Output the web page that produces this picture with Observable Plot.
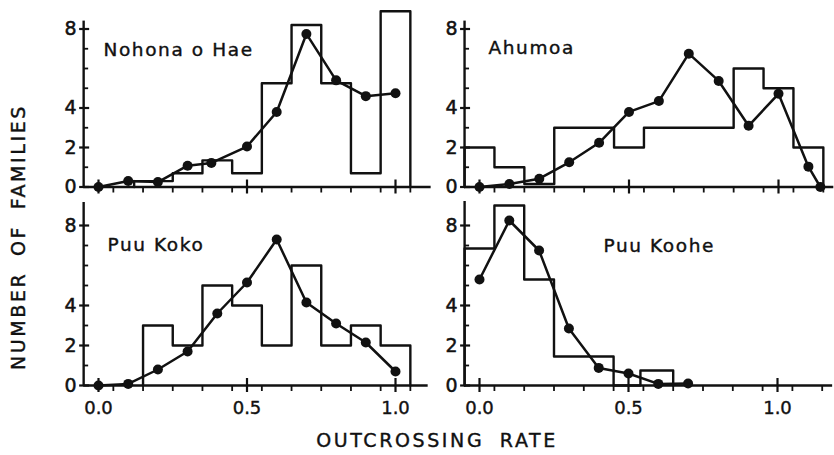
<!DOCTYPE html>
<html>
<head>
<meta charset="utf-8">
<script src="https://cdn.jsdelivr.net/npm/d3@7"></script>
<script src="https://cdn.jsdelivr.net/npm/@observablehq/plot@0.6"></script>
<style>
  body { margin: 0; background: #fff; }
  #chart { position: relative; width: 834px; height: 455px; overflow: hidden; font-family: "DejaVu Sans", sans-serif; color: #111; }
  #chart .panel { position: absolute; left: 0; top: 0; }
  #chart .panel svg { display: block; background: transparent; }
  .axtitle { position: absolute; white-space: nowrap; font-size: 19px; letter-spacing: 2.6px; word-spacing: 7px; transform: translate(-50%, -50%); -webkit-text-stroke: 0.4px #111; }
  .axtitle.y { transform: translate(-50%, -50%) rotate(-90deg); }
</style>
</head>
<body>
<div id="chart"></div>
<script>
// ---------- data ----------
const panelNames = ["Nohona o Hae", "Ahumoa", "Puu Koko", "Puu Koohe"];
const yTickValues = [0, 2, 4, 8];
const yMinorValues = [1, 3, 5, 6, 7];
const xMajorValues = [0, 0.5, 1.0];
const xTickLabels = ["0.0", "0.5", "1.0"];
const xMinorLeft = [0.05, 0.15, 0.25, 0.35, 0.45, 0.55, 0.65, 0.75, 0.85, 0.95, 1.05];
const xMinorRight = [0.05, 0.15, 0.25, 0.35, 0.45, 0.55, 0.65, 0.75, 0.85, 0.95, 1.05, 1.15];
const xTitle = "OUTCROSSING RATE";
const yTitle = "NUMBER OF FAMILIES";

// fitted curves (dots + line)
const nohonaRate = [0, 0.1, 0.2, 0.3, 0.38, 0.5, 0.6, 0.7, 0.8, 0.9, 1.0];
const nohonaFam  = [0, 0.3, 0.25, 1.08, 1.22, 2.05, 3.8, 7.75, 5.4, 4.6, 4.75];
const ahumoaRate = [0, 0.1, 0.2, 0.3, 0.4, 0.5, 0.6, 0.7, 0.8, 0.9, 1.0, 1.1, 1.14];
const ahumoaFam  = [0, 0.15, 0.42, 1.25, 2.24, 3.8, 4.35, 6.75, 5.37, 3.1, 4.72, 1.03, 0];
const kokoRate = [0, 0.1, 0.2, 0.3, 0.4, 0.5, 0.6, 0.7, 0.8, 0.9, 1.0];
const kokoFam  = [0, 0.08, 0.8, 1.7, 3.6, 5.15, 7.3, 4.15, 3.1, 2.15, 0.7];
const kooheRate = [0, 0.1, 0.2, 0.3, 0.4, 0.5, 0.6, 0.7];
const kooheFam  = [5.3, 8.25, 6.75, 2.85, 0.88, 0.6, 0.08, 0.1];

// observed histograms (bin edges + counts)
const nohonaEdges  = [0.12, 0.25, 0.35, 0.45, 0.55, 0.65, 0.75, 0.85, 0.95, 1.05];
const nohonaCounts = [0.3, 0.7, 1.35, 0.7, 5.25, 8.2, 5.25, 0.7, 8.9];
const ahumoaEdges  = [-0.05, 0.05, 0.15, 0.25, 0.35, 0.45, 0.55, 0.65, 0.75, 0.85, 0.95, 1.05, 1.15];
const ahumoaCounts = [2, 1, 0.15, 3, 3, 2, 3, 3, 3, 6, 5, 2];
const kokoEdges  = [0.15, 0.25, 0.35, 0.45, 0.55, 0.65, 0.75, 0.85, 0.95, 1.05];
const kokoCounts = [3, 2, 5, 4, 2, 6, 2, 3, 2];
const kooheEdges  = [-0.05, 0.05, 0.15, 0.25, 0.35, 0.45, 0.54, 0.65];
const kooheCounts = [6.85, 9, 5.3, 1.45, 1.45, 0, 0.75];

// ---------- layout (page pixels) ----------
const W = 834, H = 455;
const layouts = [
  {x0: 98,  unit: 297, zeroY: 186.5, yUnit: 19.75, xEnd: 1.12,  axisTop: 8.4,  titleX: 103, titleY: 50,  labels: false, minor: xMinorLeft},
  {x0: 479, unit: 299, zeroY: 186.5, yUnit: 19.75, xEnd: 1.185, axisTop: 8.4,  titleX: 488, titleY: 48,  labels: false, minor: xMinorRight},
  {x0: 98,  unit: 297, zeroY: 385,   yUnit: 20,    xEnd: 1.11,  axisTop: 9.15, titleX: 107, titleY: 245, labels: true,  minor: xMinorLeft},
  {x0: 479, unit: 298, zeroY: 385,   yUnit: 20,    xEnd: 1.185, axisTop: 9.2,  titleX: 603, titleY: 246, labels: true,  minor: xMinorRight}
];
const series = [
  [nohonaRate, nohonaFam, nohonaEdges, nohonaCounts],
  [ahumoaRate, ahumoaFam, ahumoaEdges, ahumoaCounts],
  [kokoRate, kokoFam, kokoEdges, kokoCounts],
  [kooheRate, kooheFam, kooheEdges, kooheCounts]
];

const chart = document.getElementById("chart");
const FONT = "DejaVu Sans, sans-serif";
const INK = "#111";

function stepOutline(edges, counts) {
  const pts = [{x: edges[0], y: 0}];
  counts.forEach((c, i) => pts.push({x: edges[i], y: c}));
  pts.push({x: edges[edges.length - 1], y: 0});
  return pts;
}

panelNames.forEach((name, k) => {
  const L = layouts[k];
  const [rate, fam, edges, counts] = series[k];
  const xLo = -0.05, xHi = L.xEnd, yHi = 9.5;
  const marginLeft = L.x0 + xLo * L.unit;
  const marginRight = W - (L.x0 + xHi * L.unit);
  const marginBottom = H - L.zeroY;
  const marginTop = L.zeroY - yHi * L.yUnit;
  const pts = rate.map((r, i) => ({rate: r, fam: fam[i]}));

  const marks = [
    // axes lines
    Plot.ruleY([0], {x1: xLo, x2: xHi, stroke: INK, strokeWidth: 2.4}),
    Plot.ruleX([xLo], {y1: 0, y2: L.axisTop, stroke: INK, strokeWidth: 2.4}),
    // y ticks
    Plot.ruleY(yTickValues, {y: d => d, x1: xLo, x2: xLo, insetLeft: -4, insetRight: -6, stroke: INK, strokeWidth: 2.2}),
    Plot.ruleY(yMinorValues, {y: d => d, x1: xLo, x2: xLo, insetLeft: 0, insetRight: -5, stroke: INK, strokeWidth: 1.8}),
    Plot.text(yTickValues, {x: xLo, y: d => d, text: d => String(d), textAnchor: "end", dx: -7, fontSize: 19, fill: INK, stroke: INK, strokeWidth: 0.5}),
    // x ticks
    Plot.ruleX(xMajorValues, {x: d => d, y1: 0, y2: 0, insetTop: -7, insetBottom: -7, stroke: INK, strokeWidth: 2.2}),
    Plot.ruleX(L.minor, {x: d => d, y1: 0, y2: 0, insetTop: 0, insetBottom: -6, stroke: INK, strokeWidth: 1.8}),
    // histogram outline
    Plot.line(stepOutline(edges, counts), {x: "x", y: "y", curve: "step-after", stroke: INK, strokeWidth: 2.4}),
    // fitted curve
    Plot.line(pts, {x: "rate", y: "fam", stroke: INK, strokeWidth: 2.5}),
    Plot.dot(pts, {x: "rate", y: "fam", r: 5, fill: INK, stroke: "none"}),
    // panel title
    Plot.text([name], {frameAnchor: "top-left", dx: L.titleX - marginLeft, dy: L.titleY - marginTop, textAnchor: "start", lineAnchor: "middle", fontSize: 18.5, fill: INK, stroke: INK, strokeWidth: 0.4, style: "letter-spacing:1.6px"})
  ];
  if (L.labels) {
    marks.push(Plot.text(xMajorValues, {x: d => d, y: 0, text: (d, i) => xTickLabels[i], dy: 23, fontSize: 18, fill: INK, stroke: INK, strokeWidth: 0.4, lineAnchor: "middle"}));
  }

  const svg = Plot.plot({
    width: W,
    height: H,
    marginLeft, marginRight, marginTop, marginBottom,
    x: {domain: [xLo, xHi], axis: null},
    y: {domain: [0, yHi], axis: null},
    style: {fontFamily: FONT, background: "transparent", overflow: "visible"},
    marks
  });
  svg.querySelectorAll("text").forEach(t => {
    if (t.textContent === name) t.setAttribute("letter-spacing", "1.6");
  });
  const holder = document.createElement("div");
  holder.className = "panel";
  holder.appendChild(svg);
  chart.appendChild(holder);
});

const xt = document.createElement("div");
xt.className = "axtitle";
xt.style.left = "437px"; xt.style.top = "440px";
xt.textContent = xTitle;
chart.appendChild(xt);

const yt = document.createElement("div");
yt.className = "axtitle y";
yt.style.left = "18px"; yt.style.top = "237px";
yt.textContent = yTitle;
chart.appendChild(yt);
</script>
</body>
</html>
